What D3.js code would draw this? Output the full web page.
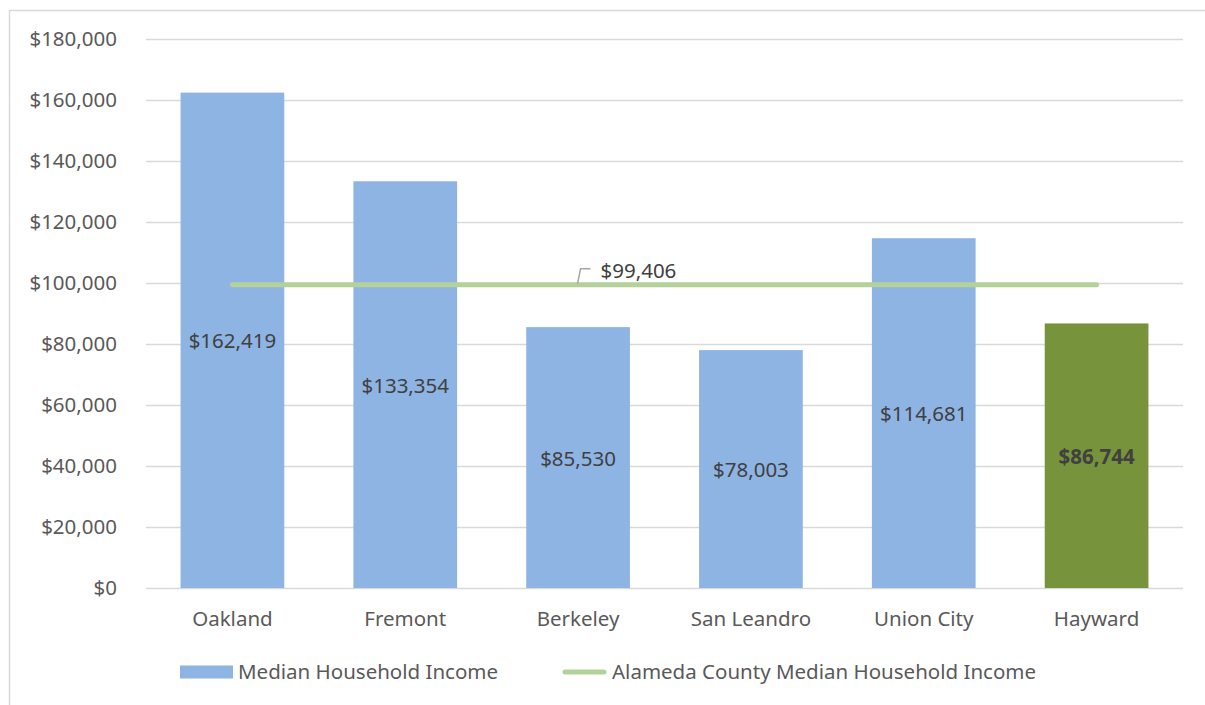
<!DOCTYPE html>
<html>
<head>
<meta charset="utf-8">
<script src="https://cdn.jsdelivr.net/npm/d3@7"></script>
<style>
  body { margin: 0; background: #fff; }
  svg { display: block; font-family: "Noto Sans", "Open Sans", sans-serif; }
</style>
</head>
<body>
<div id="chart"></div>
<script>
const cities  = ['Oakland', 'Fremont', 'Berkeley', 'San Leandro', 'Union City', 'Hayward'];
const incomes = [162419, 133354, 85530, 78003, 114681, 86744];
const countyMedian = 99406;
const yTicks = [0, 20000, 40000, 60000, 80000, 100000, 120000, 140000, 160000, 180000];
const seriesNames = ['Median Household Income', 'Alameda County Median Household Income'];

const W = 1205, H = 705;
const margin = { top: 39, right: 22, bottom: 117, left: 146 };
const iW = W - margin.left - margin.right;
const iH = H - margin.top - margin.bottom;
const FS = '20.5px';

const svg = d3.select('#chart').append('svg')
  .attr('width', W).attr('height', H);

// chart frame
svg.append('rect')
  .attr('x', 9.5).attr('y', 10.5)
  .attr('width', 1210).attr('height', 710)
  .attr('fill', 'none').attr('stroke', '#d9d9d9').attr('stroke-width', 1.5);

const g = svg.append('g').attr('transform', `translate(${margin.left},${margin.top})`);

const x = d3.scaleBand().domain(cities).range([0, iW]).paddingInner(0.4).paddingOuter(0.2);
const y = d3.scaleLinear().domain([0, 180000]).range([iH, 0]);

// grid
g.append('g')
  .call(d3.axisLeft(y).tickValues(yTicks).tickSize(-iW).tickFormat(''))
  .call(ax => ax.select('.domain').remove())
  .call(ax => ax.selectAll('line').attr('stroke', '#d9d9d9').attr('stroke-width', 1.3));

// y labels
g.append('g')
  .call(d3.axisLeft(y).tickValues(yTicks).tickSize(0).tickPadding(29)
    .tickFormat(d => '$' + d3.format(',')(d)))
  .call(ax => ax.select('.domain').remove())
  .call(ax => ax.selectAll('text').attr('font-size', FS).attr('fill', '#595959')
    .attr('font-family', '"Noto Sans", sans-serif'));

// x labels
g.append('g').attr('transform', `translate(0,${iH})`)
  .call(d3.axisBottom(x).tickSize(0).tickPadding(23))
  .call(ax => ax.select('.domain').remove())
  .call(ax => ax.selectAll('text').attr('font-size', FS).attr('fill', '#595959')
    .attr('font-family', '"Noto Sans", sans-serif'));

const rows = cities.map((c, i) => ({ city: c, value: incomes[i] }));

g.selectAll('rect.bar')
  .data(rows)
  .join('rect')
  .attr('class', 'bar')
  .attr('x', d => x(d.city))
  .attr('y', d => y(d.value))
  .attr('width', x.bandwidth())
  .attr('height', d => iH - y(d.value))
  .attr('fill', d => d.city === 'Hayward' ? '#77933c' : '#8eb4e3');

g.selectAll('text.val')
  .data(rows)
  .join('text')
  .attr('class', 'val')
  .attr('x', d => x(d.city) + x.bandwidth() / 2)
  .attr('y', d => (y(d.value) + iH) / 2 + 1)
  .attr('dy', '0.35em')
  .attr('text-anchor', 'middle')
  .attr('font-size', FS)
  .attr('fill', '#404040')
  .attr('font-weight', d => d.city === 'Hayward' ? 'bold' : 'normal')
  .text(d => '$' + d3.format(',')(d.value));

// county median line
const x0 = x(cities[0]) + x.bandwidth() / 2;
const x1 = x(cities[cities.length - 1]) + x.bandwidth() / 2;
g.append('line')
  .attr('x1', x0).attr('x2', x1)
  .attr('y1', y(countyMedian)).attr('y2', y(countyMedian))
  .attr('stroke', '#b5d19a').attr('stroke-width', 5).attr('stroke-linecap', 'round');

// label with leader
const lx = (x0 + x1) / 2 - 86;
const ly = y(countyMedian);
g.append('path')
  .attr('d', `M${lx - 1},${ly - 1} L${lx + 2},${ly - 16} L${lx + 12},${ly - 16}`)
  .attr('fill', 'none').attr('stroke', '#a6a6a6').attr('stroke-width', 1.5);
g.append('text')
  .attr('x', lx + 22).attr('y', ly - 14)
  .attr('dy', '0.35em')
  .attr('font-size', FS).attr('fill', '#404040')
  .text('$' + d3.format(',')(countyMedian));

// legend
const leg = svg.append('g').attr('transform', 'translate(180,672)');
leg.append('rect').attr('x', 0).attr('y', -6.5).attr('width', 53).attr('height', 13).attr('fill', '#8eb4e3');
leg.append('text').attr('x', 58).attr('dy', '0.35em').attr('font-size', FS).attr('fill', '#595959')
  .text(seriesNames[0]);
leg.append('line').attr('x1', 385).attr('x2', 424).attr('y1', 0).attr('y2', 0)
  .attr('stroke', '#b5d19a').attr('stroke-width', 5).attr('stroke-linecap', 'round');
leg.append('text').attr('x', 432).attr('dy', '0.35em').attr('font-size', FS).attr('fill', '#595959')
  .text(seriesNames[1]);
</script>
</body>
</html>
